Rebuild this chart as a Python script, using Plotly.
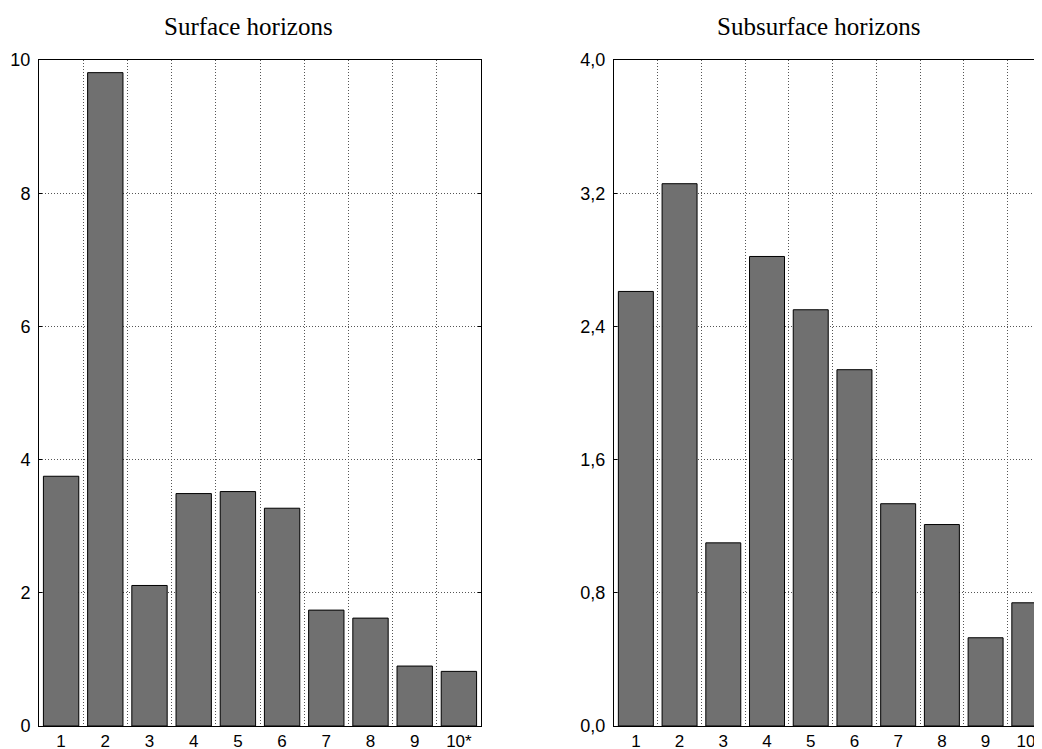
import plotly.graph_objects as go

categories = ["1", "2", "3", "4", "5", "6", "7", "8", "9", "10*"]
surface_values = [3.75, 9.81, 2.11, 3.49, 3.52, 3.27, 1.74, 1.62, 0.90, 0.82]
subsurface_values = [2.61, 3.257, 1.10, 2.82, 2.50, 2.14, 1.335, 1.21, 0.53, 0.74]
surface_ticks = [0, 2, 4, 6, 8, 10]
subsurface_ticks = [0.0, 0.8, 1.6, 2.4, 3.2, 4.0]
titles = ["Surface horizons", "Subsurface horizons"]

# page body has an 8px margin: figure sized to fit the visible window
OFF = 8
W, H = 1042 - OFF, 749 - OFF
bar_style = dict(color="#707070", line=dict(color="#000000", width=1))

fig = go.Figure()
fig.add_trace(go.Bar(x=categories, y=surface_values, marker=bar_style,
                     xaxis="x", yaxis="y", showlegend=False, cliponaxis=True))
fig.add_trace(go.Bar(x=categories, y=subsurface_values, marker=bar_style,
                     xaxis="x2", yaxis="y2", showlegend=False, cliponaxis=True))

tick_font = dict(family="Liberation Sans, Arial, sans-serif", size=18, color="#000000")
xtick_font = dict(family="Liberation Sans, Arial, sans-serif", size=17, color="#000000")
ydom = [(H - (726 - OFF)) / H, (H - (60 - OFF)) / H]
grid_dash = "1px,2px"

common_x = dict(type="category", tickson="boundaries", showgrid=True,
                gridcolor="#555555", griddash=grid_dash, gridwidth=1,
                showline=True, linecolor="#000000", linewidth=1, mirror=True,
                ticks="", tickfont=xtick_font, zeroline=False, fixedrange=True,
                automargin=False, ticklabelstandoff=0)
common_y = dict(showgrid=True, gridcolor="#555555", griddash=grid_dash, gridwidth=1,
                showline=True, linecolor="#000000", linewidth=1, mirror="ticks",
                ticks="inside", ticklen=3, tickcolor="#000000",
                tickfont=tick_font, zeroline=False, domain=ydom, fixedrange=True,
                automargin=False, ticklabelstandoff=4)

title_font = dict(family="Liberation Serif, Times New Roman, serif", size=25, color="#000000")

fig.update_layout(
    width=W, height=H,
    margin=dict(l=0, r=0, t=0, b=0, pad=0),
    paper_bgcolor="white", plot_bgcolor="white",
    separators=",.",
    bargap=0.2,
    xaxis=dict(common_x, domain=[(39 - OFF) / W, (481 - OFF) / W], range=[-0.5, 9.5], anchor="y"),
    yaxis=dict(common_y, range=[0, 10], tickvals=surface_ticks, anchor="x"),
    xaxis2=dict(common_x, domain=[(614 - OFF) / W, 1.0], range=[-0.5, 9.29], anchor="y2"),
    yaxis2=dict(common_y, range=[0, 4.0], tickvals=subsurface_ticks,
                tickformat=".1f", anchor="x2"),
    annotations=[
        dict(text=titles[0], x=(248 - OFF) / W, y=1 - (26 - OFF) / H, xref="paper", yref="paper",
             xanchor="center", yanchor="middle", showarrow=False, font=title_font),
        dict(text=titles[1], x=(818 - OFF) / W, y=1 - (26 - OFF) / H, xref="paper", yref="paper",
             xanchor="center", yanchor="middle", showarrow=False, font=title_font),
    ],
)

fig.write_html("out.html")
